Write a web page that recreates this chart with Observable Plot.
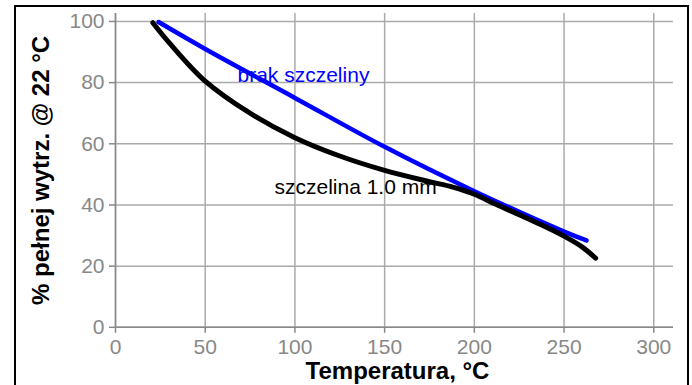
<!DOCTYPE html>
<html><head><meta charset="utf-8">
<script src="https://cdn.jsdelivr.net/npm/d3@7"></script>
<script src="https://cdn.jsdelivr.net/npm/@observablehq/plot@0.6"></script>
<style>
body{margin:0;background:#fff;}
#wrap{position:relative;width:692px;height:385px;overflow:hidden;}
#border{position:absolute;left:14px;top:5px;width:671px;height:400px;border:2px solid #000;pointer-events:none;box-sizing:content-box;}
</style></head><body><div id="wrap"><div id="chart"></div><div id="border"></div></div>
<script>
// Data
const blueTemp = [24, 50, 100, 150, 200, 250, 262.5];
const blueVal  = [99.8, 91, 75, 59, 44.5, 31.3, 28.4];
const blackTemp = [20.8, 30, 50, 75, 100, 125, 150, 175, 187.5, 200, 212, 225, 237, 250, 260, 267.6];
const blackVal  = [99.6, 93, 80.5, 70, 62, 56, 51.3, 47.6, 45.9, 43.5, 40.2, 36.8, 33.6, 29.8, 26.3, 22.6];
const labelText = ["brak szczeliny", "szczelina 1.0 mm"];
const labelX = [68, 88.6];
const labelY = [82.3, 45.9];
const labelColor = ["#0000ff", "#000000"];
const xTicks = [0, 50, 100, 150, 200, 250, 300];
const yTicks = [0, 20, 40, 60, 80, 100];
const xTitle = "Temperatura, °C";
const yTitle = "% pełnej wytrz. @ 22 °C";

const blue = blueTemp.map((t, i) => ({t, v: blueVal[i]}));
const black = blackTemp.map((t, i) => ({t, v: blackVal[i]}));
const labels = labelText.map((s, i) => ({s, x: labelX[i], y: labelY[i], c: labelColor[i]}));

const chart = Plot.plot({
  width: 692,
  height: 385,
  marginLeft: 115,
  marginRight: 19,
  marginTop: 13,
  marginBottom: 58.2,
  style: {fontFamily: "'Liberation Sans', Arial, sans-serif", color: "#888", background: "#fff"},
  x: {domain: [0, 311]},
  y: {domain: [0, 102.6]},
  marks: [
    Plot.gridX(xTicks, {stroke: "#aaa", strokeOpacity: 1, strokeWidth: 1.5}),
    Plot.gridY(yTicks, {stroke: "#aaa", strokeOpacity: 1, strokeWidth: 1.5}),
    Plot.ruleX([0], {stroke: "#888", strokeWidth: 1.5}),
    Plot.ruleY([0], {stroke: "#888", strokeWidth: 1.5}),
    Plot.axisX(xTicks, {tickSize: 6, tickPadding: 6, fontSize: 21, label: null, stroke: "#888", fill: "#888", strokeWidth: 1.5}),
    Plot.axisY(yTicks, {tickSize: 6, tickPadding: 5, fontSize: 21, label: null, stroke: "#888", fill: "#888", strokeWidth: 1.5}),
    Plot.line(blue, {x: "t", y: "v", stroke: "#0000ff", strokeWidth: 4.5, curve: "catmull-rom"}),
    Plot.line(black, {x: "t", y: "v", stroke: "#000", strokeWidth: 5, curve: "catmull-rom"}),
    Plot.text(labels, {x: "x", y: "y", text: "s", fill: "c", textAnchor: "start", lineAnchor: "middle", fontSize: 21}),
    Plot.text([xTitle], {frameAnchor: "bottom", textAnchor: "middle", lineAnchor: "middle", dx: 3, dy: 44, fontSize: 24, fontWeight: "bold", fill: "#000"}),
    Plot.text([yTitle], {frameAnchor: "left", textAnchor: "middle", lineAnchor: "middle", rotate: -90, dx: -74.5, fontSize: 24, fontWeight: "bold", fill: "#000"})
  ]
});
document.getElementById("chart").appendChild(chart);
</script>
</body></html>
